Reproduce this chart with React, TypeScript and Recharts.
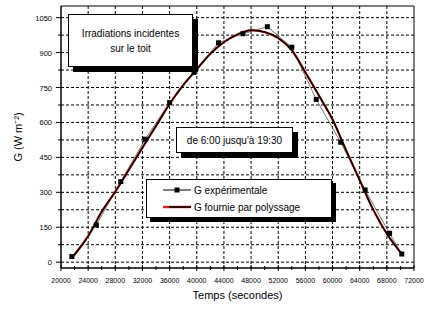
import React from 'react';
import {
  ComposedChart,
  Line,
  XAxis,
  YAxis,
  CartesianGrid,
  ReferenceArea,
  Legend,
  Label,
} from 'recharts';

// Mesures horaires (s depuis minuit) et irradiation G (W/m2)
const expTimes = [21600, 25200, 28800, 32400, 36000, 39600, 43200, 46800, 50400, 54000, 57600, 61200, 64800, 68400, 70200];
const expValues = [24, 160, 346, 528, 685, 815, 942, 981, 1011, 923, 699, 515, 310, 124, 35];

// Courbe lissée
const fitTimes = [21800, 24000, 26000, 28000, 30000, 32000, 34000, 36000, 38000, 40000, 42000, 44000, 46000, 48000, 50000, 52000, 54000, 56000, 58000, 60000, 62000, 64000, 66000, 68000, 70200];
const fitValues = [25, 112, 217, 303, 397, 492, 585, 680, 760, 828, 895, 945, 978, 996, 988, 962, 910, 815, 715, 613, 480, 352, 225, 122, 35];

const xTicks = [20000, 22000, 24000, 26000, 28000, 30000, 32000, 34000, 36000, 38000, 40000, 42000, 44000, 46000, 48000, 50000, 52000, 54000, 56000, 58000, 60000, 62000, 64000, 66000, 68000, 70000, 72000];
const yTicks = [0, 75, 150, 225, 300, 375, 450, 525, 600, 675, 750, 825, 900, 975, 1050];
const xGrid = [24000, 28000, 32000, 36000, 40000, 44000, 48000, 52000, 56000, 60000, 64000, 68000];

const expData = expTimes.map((t, i) => ({ t, g: expValues[i] }));
const fitData = fitTimes.map((t, i) => ({ t, g: fitValues[i] }));

const FONT = '"Liberation Sans", Arial, sans-serif';

const XTick = (props: any) => {
  const { x, y, payload } = props;
  const major = payload.value % 4000 === 0;
  return (
    <g>
      <line x1={x} x2={x} y1={y - (major ? 3 : 2)} y2={y + (major ? 3 : 2)} stroke="#000" />
      {major && (
        <text x={x} y={y + 15} textAnchor="middle" fontSize={7} fontFamily={FONT} fill="#000">
          {payload.value}
        </text>
      )}
    </g>
  );
};

const YTick = (props: any) => {
  const { x, y, payload } = props;
  const major = payload.value % 150 === 0;
  return (
    <g>
      <line x1={x - (major ? 5 : 3)} x2={x} y1={y} y2={y} stroke="#000" />
      {major && (
        <text x={x - 9} y={y + 3} textAnchor="end" fontSize={7.5} fontFamily={FONT} fill="#000">
          {payload.value}
        </text>
      )}
    </g>
  );
};

const LegendBox = () => (
  <div
    style={{
      width: 184,
      height: 37,
      background: '#fff',
      border: '1px solid #000',
      boxShadow: '4px 4px 0 #000',
      fontFamily: FONT,
      fontSize: 10,
      color: '#000',
      position: 'relative',
    }}
  >
    <svg width={184} height={37} style={{ position: 'absolute', left: 0, top: 0 }}>
      <line x1={16} x2={44} y1={10} y2={10} stroke="#000" strokeWidth={1} />
      <rect x={27.5} y={7.5} width={5} height={5} fill="#000" />
      <text x={47} y={13.5} fontSize={10} fontFamily={FONT}>G expérimentale</text>
      <line x1={16} x2={44} y1={27} y2={27} stroke="#e0201c" strokeWidth={2.4} />
      <line x1={22} x2={44} y1={27} y2={27} stroke="#000" strokeWidth={1.5} />
      <text x={47} y={30.5} fontSize={10} fontFamily={FONT}>G fournie par polyssage</text>
    </svg>
  </div>
);

const Note = ({ left, top, width, height, lines }: { left: number; top: number; width: number; height: number; lines: string[] }) => (
  <div
    style={{
      position: 'absolute',
      left,
      top,
      width,
      height,
      background: '#fff',
      border: '1px solid #000',
      boxShadow: '5px 5px 0 #000',
      fontFamily: FONT,
      fontSize: 10,
      color: '#000',
      display: 'flex',
      flexDirection: 'column',
      justifyContent: 'center',
      alignItems: 'center',
      lineHeight: '15px',
      boxSizing: 'border-box',
    }}
  >
    {lines.map((l) => (
      <div key={l}>{l}</div>
    ))}
  </div>
);

export default function App() {
  return (
    <div style={{ position: 'absolute', left: 0, top: 0, width: 430, height: 309, background: '#fff' }}>
      <ComposedChart width={430} height={309} margin={{ top: 6, right: 16, left: 0, bottom: 0 }}>
        <CartesianGrid
          stroke="#000"
          strokeDasharray="3 2"
          horizontalValues={yTicks}
          verticalValues={xGrid}
        />
        <XAxis
          type="number"
          dataKey="t"
          domain={[20000, 72000]}
          ticks={xTicks}
          interval={0}
          height={41}
          tickSize={0}
          tickMargin={0}
          tick={<XTick />}
          axisLine={{ stroke: '#000' }}
          allowDataOverflow
        >
          <Label
            value="Temps (secondes)"
            position="insideBottom"
            offset={10}
            style={{ fontFamily: FONT, fontSize: 11, fill: '#000' }}
          />
        </XAxis>
        <YAxis
          type="number"
          domain={[-25, 1100]}
          ticks={yTicks}
          interval={0}
          width={61}
          tickSize={0}
          tickMargin={0}
          tick={<YTick />}
          axisLine={{ stroke: '#000' }}
          allowDataOverflow
        >
          <Label
            content={() => (
              <text
                transform="translate(22,137) rotate(-90)"
                textAnchor="middle"
                fontFamily={FONT}
                fontSize={11}
                fill="#000"
              >
                G (W m⁻²)
              </text>
            )}
          />
        </YAxis>
        <ReferenceArea x1={20000} x2={72000} y1={-25} y2={1100} fill="none" stroke="#000" strokeOpacity={1} />
        <Line
          data={expData}
          dataKey="g"
          stroke="#555"
          strokeWidth={0.8}
          isAnimationActive={false}
          legendType="none"
          dot={(p: any) => <rect key={p.index} x={p.cx - 2.5} y={p.cy - 2.5} width={5} height={5} fill="#000" />}
          activeDot={false}
        />
        <Line
          data={fitData}
          dataKey="g"
          type="monotone"
          stroke="#e0201c"
          strokeWidth={2.2}
          dot={false}
          isAnimationActive={false}
        />
        <Line
          data={fitData}
          dataKey="g"
          type="monotone"
          stroke="#000"
          strokeWidth={1.5}
          dot={false}
          isAnimationActive={false}
        />
        <Legend
          layout="vertical"
          align="center"
          verticalAlign="middle"
          content={<LegendBox />}
          wrapperStyle={{ left: 146, top: 179, width: 186, height: 39 }}
        />
      </ComposedChart>
      <Note left={68} top={14} width={125} height={53} lines={['Irradiations incidentes', 'sur le toit']} />
      <Note left={176} top={127} width={117} height={26} lines={["de 6:00 jusqu'à 19:30"]} />
    </div>
  );
}
